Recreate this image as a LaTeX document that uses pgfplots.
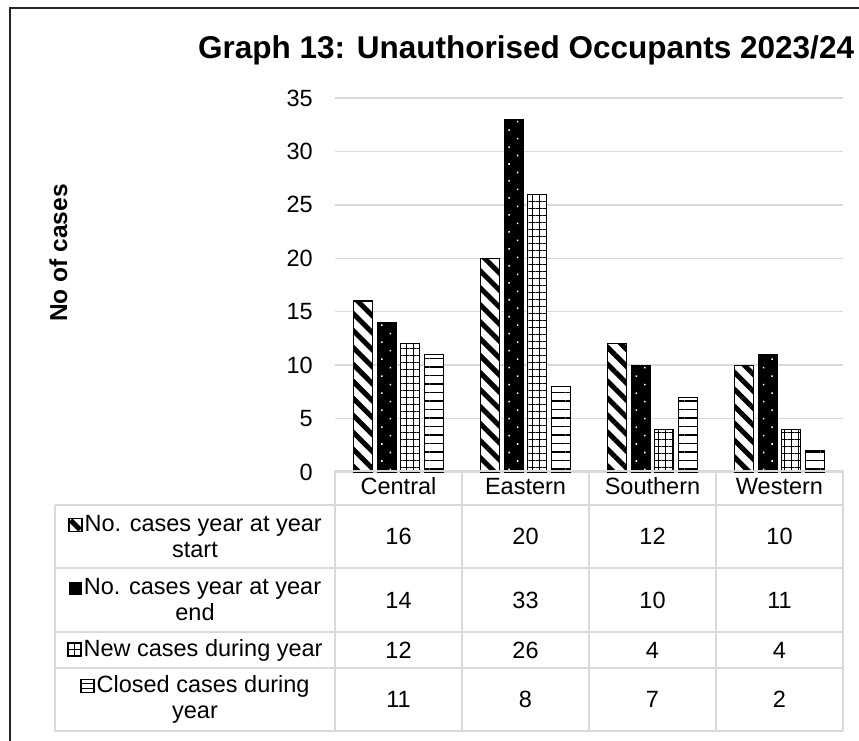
\documentclass[border=0pt]{standalone}
\usepackage{fontspec}
\setmainfont{Liberation Sans}
\usepackage{pgfplots}
\usepackage{pgfplotstable}
\pgfplotsset{compat=1.18}
\usetikzlibrary{patterns.meta}
\definecolor{gridgray}{HTML}{D9D9D9}

\pgfplotstableread{
cat start endv new closed
0 16 14 12 11
1 20 33 26 8
2 12 10 4 7
3 10 11 4 2
}\datatable

\newcommand{\tfont}{\fontsize{23.5bp}{26bp}\selectfont}
\newcommand{\iconA}{\tikz[baseline=0pt]{\fill[white] (0,0) rectangle (13bp,13bp);
  \begin{scope}\clip (0,0) rectangle (13bp,13bp);
  \fill[black] (0,9.5bp)--(3.5bp,13bp)--(13bp,3.5bp)--(9.5bp,0)--cycle;\end{scope}
  \draw[line width=1.4bp] (0,0) rectangle (13bp,13bp);}}
\newcommand{\iconB}{\tikz[baseline=0pt]{\fill[black] (0,0) rectangle (13bp,13bp);}}
\newcommand{\iconC}{\tikz[baseline=0pt]{\draw[line width=1.2bp] (0,0) rectangle (13bp,13bp);
  \draw[line width=1.1bp] (6.5bp,0)--(6.5bp,13bp) (0,6.5bp)--(13bp,6.5bp);}}
\newcommand{\iconD}{\tikz[baseline=0pt]{\draw[line width=1.2bp] (0,0) rectangle (13bp,13bp);
  \draw[line width=1.1bp] (0,4.3bp)--(13bp,4.3bp) (0,8.7bp)--(13bp,8.7bp);}}

\begin{document}
\begin{tikzpicture}
\useasboundingbox (0,0) rectangle (859bp,741bp);
\fill[white] (0,0) rectangle (859bp,741bp);
% frame
\draw[line width=1.5bp, black!85] (10bp,0) -- (10bp,733bp) -- (860bp,733bp);
% title
\node[anchor=base west, inner sep=0pt, font=\fontsize{31.5bp}{36bp}\selectfont\bfseries] at (198bp,682bp) {Graph 13: Unauthorised Occupants 2023/24};
% y label
\node[rotate=90, anchor=base, inner sep=0pt, font=\fontsize{24.5bp}{28bp}\selectfont\bfseries] at (67bp,488bp) {No of cases};

\begin{axis}[
  at={(335bp,269bp)}, anchor=south west, scale only axis,
  width=508bp, height=374bp,
  xmin=-0.5, xmax=3.5, ymin=0, ymax=35,
  ytick={0,5,...,35}, xtick=\empty,
  ymajorgrids, grid style={gridgray, line width=1.3bp},
  axis line style={draw=none}, major tick length=0pt,
  ybar=4.5bp, bar width=19bp,
  ticklabel style={font=\tfont},
  yticklabel style={inner sep=0pt, xshift=-22bp},
  /pgf/number format/assume math mode=true,
  clip=false,
]
\addplot[draw=black, line width=1.2bp, fill=white,
  postaction={pattern={Lines[angle=-45,distance=12bp,line width=5bp]}, pattern color=black}]
  table[x=cat,y=start]{\datatable};
\addplot[draw=black, line width=1.2bp, fill=black,
  postaction={pattern={Dots[angle=45,distance=12bp,radius=1.1bp]}, pattern color=white}]
  table[x=cat,y=endv]{\datatable};
\addplot[draw=black, line width=1.2bp, fill=white,
  postaction={pattern={Hatch[angle=0,distance=7bp,line width=1bp]}, pattern color=black}]
  table[x=cat,y=new]{\datatable};
\addplot[draw=black, line width=1.2bp, fill=white,
  postaction={pattern={Lines[angle=0,distance=8.5bp,line width=1.3bp]}, pattern color=black}]
  table[x=cat,y=closed]{\datatable};
\end{axis}

% data table grid
\begin{scope}[gridgray, line width=1.3bp]
\draw (335bp,270bp) -- (843bp,270bp);
\foreach \yy in {236,173,109,73,10}{\draw (55bp,\yy bp) -- (843bp,\yy bp);}
\draw (55bp,236bp) -- (55bp,10bp);
\foreach \xx in {335,462,589,716,843}{\draw (\xx bp,270bp) -- (\xx bp,10bp);}
\end{scope}

% header labels
\foreach \c/\name in {0/Central,1/Eastern,2/Southern,3/Western}{
  \node[font=\tfont, inner sep=0pt, anchor=base] at ({398.5bp+127bp*\c},246bp) {\name};
}
% row labels
\node[align=center, font=\tfont, inner sep=0pt] at (195bp,204.5bp) {\iconA\hspace{2bp}No. cases year at year\\start};
\node[align=center, font=\tfont, inner sep=0pt] at (195bp,141bp) {\iconB\hspace{2bp}No. cases year at year\\end};
\node[align=center, font=\tfont, inner sep=0pt] at (195bp,91bp) {\iconC\hspace{2bp}New cases during year};
\node[align=center, font=\tfont, inner sep=0pt] at (195bp,41.5bp) {\iconD\hspace{2bp}Closed cases during\\year};
% values
\foreach \r in {0,1,2,3}{
  \foreach \col/\yy in {start/204.5, endv/141, new/91, closed/41.5}{
    \pgfplotstablegetelem{\r}{\col}\of\datatable
    \node[font=\tfont, inner sep=0pt] at ({398.5bp+127bp*\r},\yy bp) {\pgfplotsretval};
  }
}
\end{tikzpicture}
\end{document}
